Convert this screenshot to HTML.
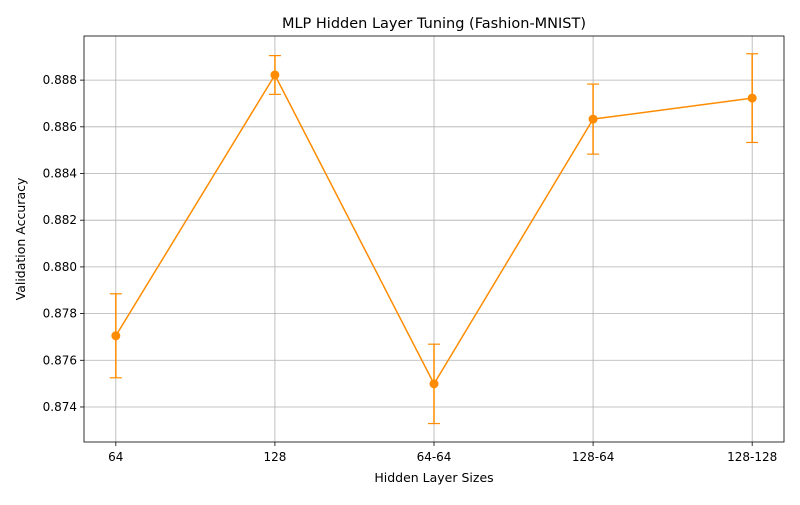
<!DOCTYPE html>
<html><head><meta charset="utf-8"><style>
body{margin:0;background:#fff;font-family:"Liberation Sans","DejaVu Sans",sans-serif;}
svg text{font-family:"DejaVu Sans","Liberation Sans",sans-serif;}
</style></head><body>
<svg id="chart" width="800" height="500"></svg>
<script>
const categories=["64","128","64-64","128-64","128-128"];
const meanAcc=[0.87705,0.88822,0.87499,0.88633,0.88723];
const errAcc=[0.0018,0.00083,0.0017,0.0015,0.0019];
const yTicks=[0.874,0.876,0.878,0.880,0.882,0.884,0.886,0.888];
const L=84,R=784,T=36,B=442,ymin=0.8725,ymax=0.88989;
const xs=i=>L+(i+0.2)/4.4*(R-L);
const ys=v=>B-(v-ymin)/(ymax-ymin)*(B-T);
const svg=document.getElementById('chart');
const NS='http://www.w3.org/2000/svg';
function mk(t,a,p){const e=document.createElementNS(NS,t);for(const k in a)e.setAttribute(k,a[k]);(p||svg).appendChild(e);return e;}
let e;
e=mk('rect',{x:0,y:0,width:800,height:500,fill:'#fff'});


categories.forEach((c,i)=>{const x=xs(i);
 e=mk('line',{x1:x,x2:x,y1:T,y2:B,stroke:'#b0b0b0','stroke-width':0.8});
 
 
 mk('line',{x1:x,x2:x,y1:B,y2:B+4,stroke:'#000','stroke-width':0.8});
 e=mk('text',{x:x,y:B+19,'text-anchor':'middle','font-size':12});e.textContent=c;
 
 
});
yTicks.forEach(v=>{const y=ys(v);
 e=mk('line',{x1:L,x2:R,y1:y,y2:y,stroke:'#b0b0b0','stroke-width':0.8});
 
 
 mk('line',{x1:L-4,x2:L,y1:y,y2:y,stroke:'#000','stroke-width':0.8});
 e=mk('text',{x:L-7,y:y+4,'text-anchor':'end','font-size':12});e.textContent=v.toFixed(3);
 
 
});
e=mk('rect',{x:L,y:T,width:R-L,height:B-T,fill:'none',stroke:'#000','stroke-width':0.8});


const c='#ff8c00';
e=mk('polyline',{points:meanAcc.map((v,i)=>xs(i)+','+ys(v)).join(' '),fill:'none',stroke:c,'stroke-width':1.5});


meanAcc.forEach((v,i)=>{const x=xs(i),y1=ys(v-errAcc[i]),y2=ys(v+errAcc[i]);
 e=mk('line',{x1:x,x2:x,y1:y1,y2:y2,stroke:c,'stroke-width':1.5});
 
 
 mk('line',{x1:x-6,x2:x+6,y1:y1,y2:y1,stroke:c,'stroke-width':1.2});
 mk('line',{x1:x-6,x2:x+6,y1:y2,y2:y2,stroke:c,'stroke-width':1.2});
 e=mk('circle',{cx:x,cy:ys(v),r:4.5,fill:c});
 
 
});
e=mk('text',{x:434,y:28,'text-anchor':'middle','font-size':14.5});e.textContent='MLP Hidden Layer Tuning (Fashion-MNIST)';


e=mk('text',{x:434,y:482,'text-anchor':'middle','font-size':12.5});e.textContent='Hidden Layer Sizes';


e=mk('text',{x:25,y:239,'text-anchor':'middle','font-size':12.5,transform:'rotate(-90 25 239)'});e.textContent='Validation Accuracy';


</script>
</body></html>
